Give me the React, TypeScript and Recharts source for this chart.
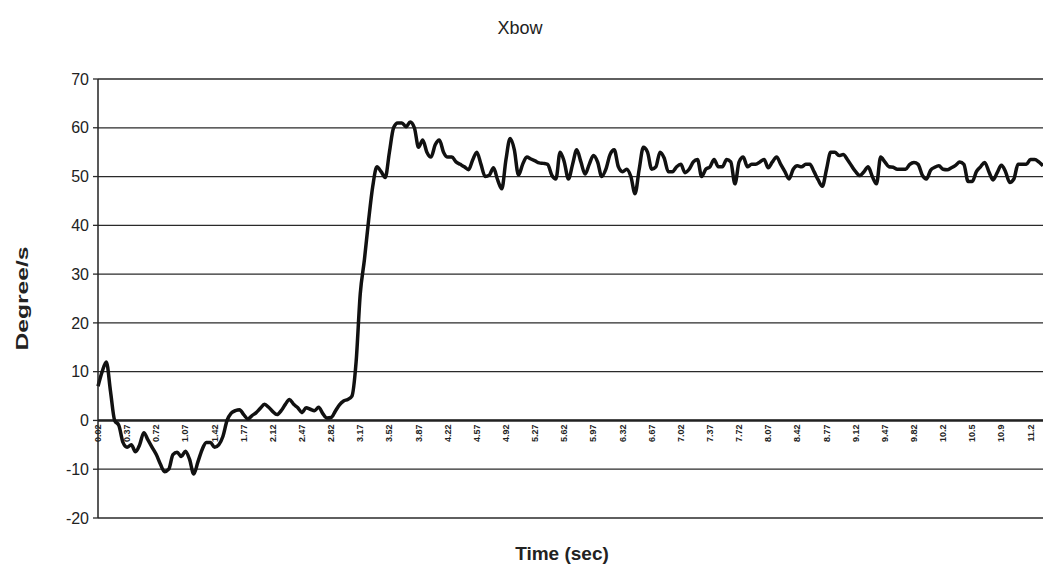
import { LineChart, Line, XAxis, YAxis, CartesianGrid, ReferenceLine, Label } from "recharts"

// angular rate, one value per 0.05 s sample
const degreesPerSec = [
  7, 10, 12, 6, 0, -1, -4.5, -5.5, -5, -6.4, -5, -2.5, -4, -5.5, -7, -9, -10.5, -10, -7, -6.5,
  -7.4, -6.3, -8, -11, -8.5, -6, -4.5, -4.5, -5.5, -5, -3.3, 0, 1.5, 2, 2.2, 1.2,
  0.3, 1, 1.6, 2.5, 3.3, 2.7, 1.8, 1.2, 2, 3.3, 4.3, 3.3, 2.6, 1.6, 2.6, 2.3, 2, 2.7, 1.4, 0.5,
  0.6, 1.9, 3.2, 4, 4.3, 5, 12, 26, 33, 41, 48, 52, 51, 49.8, 55, 60, 61,
  61, 60.2, 61.2, 60, 56, 57.5, 55, 54, 56.5, 57.5, 55, 54, 54, 53, 52.5, 52, 51.4, 53.4, 55, 52.5,
  50, 50.3, 51.8, 49.3, 47.5, 53.5, 57.8, 55.5, 50.3, 52.5, 54, 53.6, 53.2, 52.8, 52.7, 52.5, 50.3, 49.5,
  55, 53, 49.5, 52.5, 55.5, 53, 50.5, 52.5, 54.3, 53, 50, 51.5, 54.5, 55.5, 52, 51, 51.5, 50, 46.5, 51.5,
  56, 55, 51.5, 52, 55, 53.8, 51, 51, 52, 52.5, 50.8, 51.5, 53, 53.5, 50, 51.5,
  52, 53.5, 52, 52, 53.5, 53, 48.5, 53, 54, 52, 52.5, 52.5, 53, 53.5, 51.8, 53, 54, 52.5, 51, 49.5,
  51.5, 52.2, 52, 52.5, 52.5, 51, 49.3, 48, 51.5, 55, 55, 54.3, 54.5, 53.5, 52.2, 51, 50.2, 51, 52, 50,
  48.5, 54, 53, 52, 51.9, 51.5, 51.5, 51.5, 52.5, 52.9, 52.5, 50.3, 49.5, 51.3, 51.9, 52.2, 51.5, 51.4, 51.8, 52.3,
  53, 52.5, 49, 49, 51, 52, 52.9, 51, 49.3, 50.8, 52.3, 51, 48.8, 49.5, 52.5, 52.5, 52.5, 53.5, 53.5, 53, 52.2,
]

const yTicks = [-20, -10, 0, 10, 20, 30, 40, 50, 60, 70]
const firstTime = 0.02
const sampleStep = 0.05

const data = degreesPerSec.map((rate, i) => ({
  time: (Math.round((firstTime + i * sampleStep) * 100) / 100).toFixed(2),
  rate,
}))

const W = 1043
const H = 573
const TOP = 79
const X_AXIS_H = 55
const Y_AXIS_W = 98
const plotH = H - TOP - X_AXIS_H
const zeroY = TOP + (plotH * 70) / 90
const midY = TOP + plotH / 2

const font = "'Liberation Sans', Arial, sans-serif"

// Excel prints "10.17" as "10.2" in the narrow label slot
const fmtTime = (s: string) => {
  const t = Number(s)
  return t < 10 ? t.toFixed(2) : t.toFixed(1)
}

function TimeTick(props: any) {
  const { x, payload } = props
  const y = zeroY + 4
  return (
    <text
      x={x}
      y={y}
      transform={`rotate(-90 ${x} ${y})`}
      textAnchor="end"
      dominantBaseline="central"
      fontSize={9}
      fontWeight={700}
      fontFamily={font}
      fill="#222"
    >
      {fmtTime(payload.value)}
    </text>
  )
}

export default function App() {
  return (
    <div
      style={{
        position: "absolute",
        left: 0,
        top: 0,
        width: W,
        height: H,
        background: "#fff",
        fontFamily: font,
      }}
    >
      <LineChart width={W} height={H} data={data} margin={{ top: TOP, right: 0, bottom: 0, left: 0 }}>
        <text x={520} y={34} textAnchor="middle" fontSize={18} fontFamily={font} fill="#222">
          Xbow
        </text>
        <CartesianGrid vertical={false} stroke="#2a2a2a" strokeWidth={1.3} />
        <XAxis
          dataKey="time"
          height={X_AXIS_H}
          interval={6}
          axisLine={false}
          tickLine={false}
          tick={<TimeTick />}
        >
          <Label
            content={() => (
              <text x={562} y={560} textAnchor="middle" fontSize={19} fontWeight={700} fontFamily={font} fill="#222">
                Time (sec)
              </text>
            )}
          />
        </XAxis>
        <YAxis
          width={Y_AXIS_W}
          domain={[-20, 70]}
          ticks={yTicks}
          interval={0}
          axisLine={{ stroke: "#222", strokeWidth: 1.5 }}
          tickLine={{ stroke: "#2a2a2a", strokeWidth: 1.3 }}
          tickSize={5}
          tickMargin={4}
          tick={{ fontSize: 16, fill: "#222", fontFamily: font }}
        >
          <Label
            content={() => (
              <text
                x={28}
                y={midY}
                transform={`rotate(-90 28 ${midY})`}
                textAnchor="middle"
                fontSize={16}
                fontWeight={700}
                fontFamily={font}
                fill="#222"
                textLength={104}
                lengthAdjust="spacingAndGlyphs"
              >
                Degree/s
              </text>
            )}
          />
        </YAxis>
        <ReferenceLine y={0} stroke="#222" strokeWidth={2.5} />
        <Line
          type="monotone"
          dataKey="rate"
          stroke="#111"
          strokeWidth={3.5}
          dot={false}
          isAnimationActive={false}
        />
      </LineChart>
    </div>
  )
}
